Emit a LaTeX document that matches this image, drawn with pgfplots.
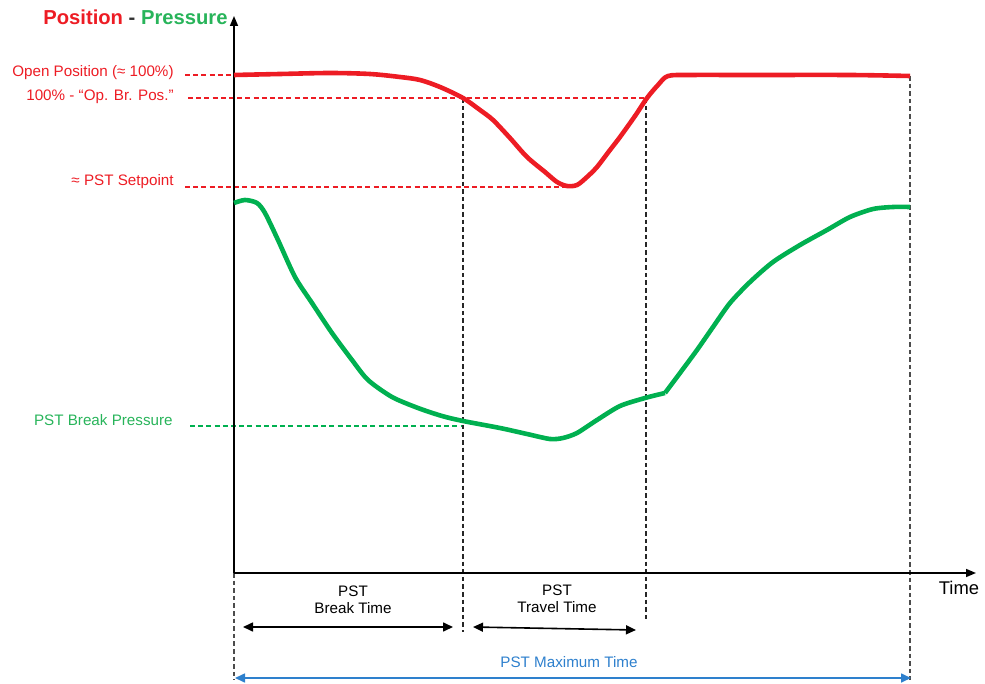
\documentclass[border=0pt]{standalone}
\usepackage{fontspec}
\setmainfont{Liberation Sans}
\usepackage{pgfplots}
\pgfplotsset{compat=1.18}
\usetikzlibrary{arrows.meta}
\definecolor{cred}{RGB}{237,28,36}
\definecolor{cgreen}{RGB}{0,176,80}
\definecolor{tgreen}{RGB}{40,180,90}
\definecolor{cblue}{RGB}{46,128,205}
\begin{document}
\begin{tikzpicture}
\begin{axis}[
  at={(0,0)}, anchor=south west,
  scale only axis, x=0.5pt, y=0.5pt,
  xmin=0, xmax=985, ymin=0, ymax=684, y dir=reverse,
  axis lines=none, clip=false,
  tick style={draw=none}, xtick=\empty, ytick=\empty,
]
% guide lines
\draw[cred, line width=0.6pt, dash pattern=on 2.5pt off 1.6pt] (axis cs:185,75) -- (axis cs:234,75);
\draw[cred, line width=0.6pt, dash pattern=on 2.5pt off 1.6pt] (axis cs:188,98) -- (axis cs:646,98);
\draw[cred, line width=0.6pt, dash pattern=on 2.5pt off 1.6pt] (axis cs:185,187) -- (axis cs:567,187);
\draw[cgreen, line width=0.6pt, dash pattern=on 2.5pt off 1.6pt] (axis cs:190,426) -- (axis cs:463,426);
\draw[black!85, line width=0.65pt, dash pattern=on 2.3pt off 1.5pt] (axis cs:463,98) -- (axis cs:463,632);
\draw[black!85, line width=0.65pt, dash pattern=on 2.3pt off 1.5pt] (axis cs:646,98) -- (axis cs:646,622);
\draw[black!70, line width=0.65pt, dash pattern=on 2.3pt off 1.5pt] (axis cs:910,76) -- (axis cs:910,680);
\draw[black!70, line width=0.65pt, dash pattern=on 2.3pt off 1.5pt] (axis cs:234,573) -- (axis cs:234,680);
% axes
\draw[black, line width=0.8pt, -{Triangle[length=5pt,width=4pt]}] (axis cs:234,573) -- (axis cs:234,16);
\draw[black, line width=0.8pt, -{Triangle[length=5pt,width=4pt]}] (axis cs:234,573) -- (axis cs:976,573);
% position curve
\addplot[cred, line width=2.3pt, smooth, tension=0.5] coordinates {
 (234,75) (280,74) (330,73) (370,74) (400,77) (420,80) (440,87) (463,98)
 (480,110) (493,120) (510,138) (527,157) (545,172) (557,182) (567,186)
 (577,185) (587,177) (597,167) (610,150) (620,137) (635,116) (647,98)
 (658,85) (668,76) (690,75) (750,75) (850,75) (910,76)
};
% pressure curve
\addplot[cgreen, line width=2.3pt, smooth, tension=0.45] coordinates {
 (234,203) (245,200) (257,203) (265,213) (278,240) (295,277) (312,303)
 (332,333) (352,360) (368,380) (392,397) (418,408) (442,416) (463,421)
 (500,428) (527,434) (550,439) (563,438) (577,433) (597,420) (620,406)
 (645,398) (665,393)
};
\addplot[cgreen, line width=2.3pt, smooth, tension=0.45] coordinates {
 (665,393) (680,373) (697,350) (713,327) (730,303) (750,282) (773,262)
 (800,245) (827,230) (850,217) (873,209) (893,207) (910,207)
};
% time arrows
\draw[black, line width=0.8pt, {Triangle[length=5pt,width=4.5pt]}-{Triangle[length=5pt,width=4.5pt]}] (axis cs:243,627) -- (axis cs:453,627);
\draw[black, line width=0.8pt, {Triangle[length=5pt,width=4.5pt]}-{Triangle[length=5pt,width=4.5pt]}] (axis cs:473,627) -- (axis cs:636,630);
\draw[cblue, line width=0.8pt, {Triangle[length=5pt,width=4.5pt]}-{Triangle[length=5pt,width=4.5pt]}] (axis cs:235,678) -- (axis cs:911,678);
% labels
\node[anchor=base west, inner sep=0pt, font=\fontsize{10.1}{12}\selectfont\bfseries] at (axis cs:43,25)
  {\textcolor{cred}{Position} \textcolor{black!80}{-} \textcolor{tgreen}{Pressure}};
\node[anchor=east, inner sep=0pt, text=cred, font=\fontsize{7.6}{9}\selectfont] at (axis cs:174,73) {Open Position (≈ 100\%)};
\node[anchor=east, inner sep=0pt, text=cred, font=\fontsize{7.6}{9}\selectfont] at (axis cs:174,97) {100\% - \textquotedblleft Op. Br. Pos."};
\node[anchor=east, inner sep=0pt, text=cred, font=\fontsize{7.6}{9}\selectfont] at (axis cs:174,182) {≈ PST Setpoint};
\node[anchor=east, inner sep=0pt, text=tgreen, font=\fontsize{7.6}{9}\selectfont] at (axis cs:173,420) {PST Break Pressure};
\node[inner sep=0pt, align=center, font=\fontsize{7.6}{8.6}\selectfont] at (axis cs:353,600) {PST\\Break Time};
\node[inner sep=0pt, align=center, font=\fontsize{7.6}{8.6}\selectfont] at (axis cs:557,599) {PST\\Travel Time};
\node[inner sep=0pt, text=cblue, font=\fontsize{7.6}{9}\selectfont] at (axis cs:569,662) {PST Maximum Time};
\node[inner sep=0pt, font=\fontsize{9.2}{11}\selectfont] at (axis cs:959,588) {Time};
\end{axis}
\pgfresetboundingbox
\path (0,0) rectangle (492.5pt,342pt);
\end{tikzpicture}
\end{document}
